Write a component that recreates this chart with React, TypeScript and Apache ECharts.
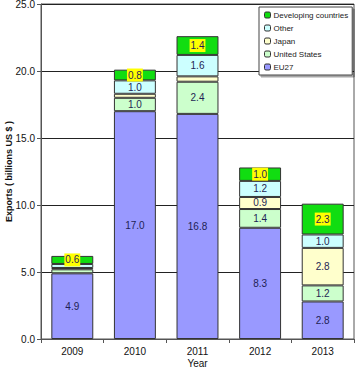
import React, { useEffect, useRef } from "react";
import * as echarts from "echarts";

const years = ["2009", "2010", "2011", "2012", "2013"];
const eu27 = [4.9, 17.0, 16.8, 8.3, 2.8];
const unitedStates = [0.3, 1.0, 2.4, 1.4, 1.2];
const japan = [0.1, 0.3, 0.4, 0.9, 2.8];
const other = [0.3, 1.0, 1.6, 1.2, 1.0];
const developing = [0.6, 0.8, 1.4, 1.0, 2.3];
const yTicks = [0, 5, 10, 15, 20, 25];

const FONT = "Liberation Sans, Arial, sans-serif";

export default function App() {
  const ref = useRef<HTMLDivElement>(null);
  useEffect(() => {
    const chart = echarts.init(ref.current!, null, { renderer: "svg" });
    const mk = (name: string, data: number[], color: string, yellow = false) => ({
      name,
      type: "bar",
      stack: "total",
      data,
      barCategoryGap: "33%",
      itemStyle: { color, borderColor: "#333333", borderWidth: 1 },
      label: {
        show: true,
        position: "inside",
        fontFamily: FONT,
        fontSize: 10,
        color: "#1f1f55",
        formatter: (p: any) => (p.value >= 0.5 ? p.value.toFixed(1) : ""),
        ...(yellow ? { backgroundColor: "#ffff00", padding: [2, 1, 1, 1] } : {}),
      },
    });
    chart.setOption({
      animation: false,
      textStyle: { fontFamily: FONT },
      grid: {
        left: 41,
        right: 1,
        top: 4,
        bottom: 29,
        containLabel: false,
        outerBoundsMode: "none",
        show: true,
        borderColor: "#555",
        borderWidth: 1,
      },
      legend: {
        orient: "vertical",
        left: 259,
        top: 7,
        width: 88,
        data: ["Developing countries", "Other", "Japan", "United States", "EU27"],
        itemWidth: 6,
        itemHeight: 6,
        itemGap: 5,
        padding: [4, 4, 4, 5],
        backgroundColor: "#ffffff",
        borderColor: "#444",
        borderWidth: 1,
        shadowColor: "rgba(0,0,0,0.35)",
        shadowOffsetX: 2,
        shadowOffsetY: 2,
        shadowBlur: 0,
        textStyle: { fontFamily: FONT, fontSize: 8, color: "#222", padding: [0, 0, 0, -2] },
        itemStyle: { borderColor: "#333", borderWidth: 1 },
      },
      xAxis: {
        type: "category",
        data: years,
        name: "Year",
        nameLocation: "middle",
        nameGap: 19,
        nameMoveOverlap: false,
        nameTextStyle: { fontFamily: FONT, fontSize: 10, color: "#111" },
        axisLine: { lineStyle: { color: "#555" } },
        axisTick: { show: true, length: 4, lineStyle: { color: "#555" } },
        axisLabel: { fontFamily: FONT, fontSize: 10, color: "#111", margin: 7 },
      },
      yAxis: {
        type: "value",
        min: 0,
        max: 25,
        interval: 5,
        name: "Exports ( billions US $ )",
        nameLocation: "middle",
        nameGap: 28,
        nameMoveOverlap: false,
        nameRotate: 90,
        nameTextStyle: { fontFamily: FONT, fontSize: 9, fontWeight: "bold", color: "#111" },
        axisLine: { show: true, lineStyle: { color: "#555" } },
        axisTick: { show: true, length: 4, lineStyle: { color: "#555" } },
        splitLine: { lineStyle: { color: "#222", width: 1 } },
        axisLabel: {
          fontFamily: FONT,
          fontSize: 10,
          color: "#111",
          margin: 6,
          formatter: (v: number) => (yTicks.includes(v) ? v.toFixed(1) : ""),
        },
      },
      series: [
        mk("EU27", eu27, "#9999ff"),
        mk("United States", unitedStates, "#ccffcc"),
        mk("Japan", japan, "#ffffcc"),
        mk("Other", other, "#ccffff"),
        mk("Developing countries", developing, "#11dd11", true),
      ],
    });
    return () => chart.dispose();
  }, []);
  return <div ref={ref} style={{ width: 355, height: 368, position: "absolute", left: 0, top: 0 }} />;
}
